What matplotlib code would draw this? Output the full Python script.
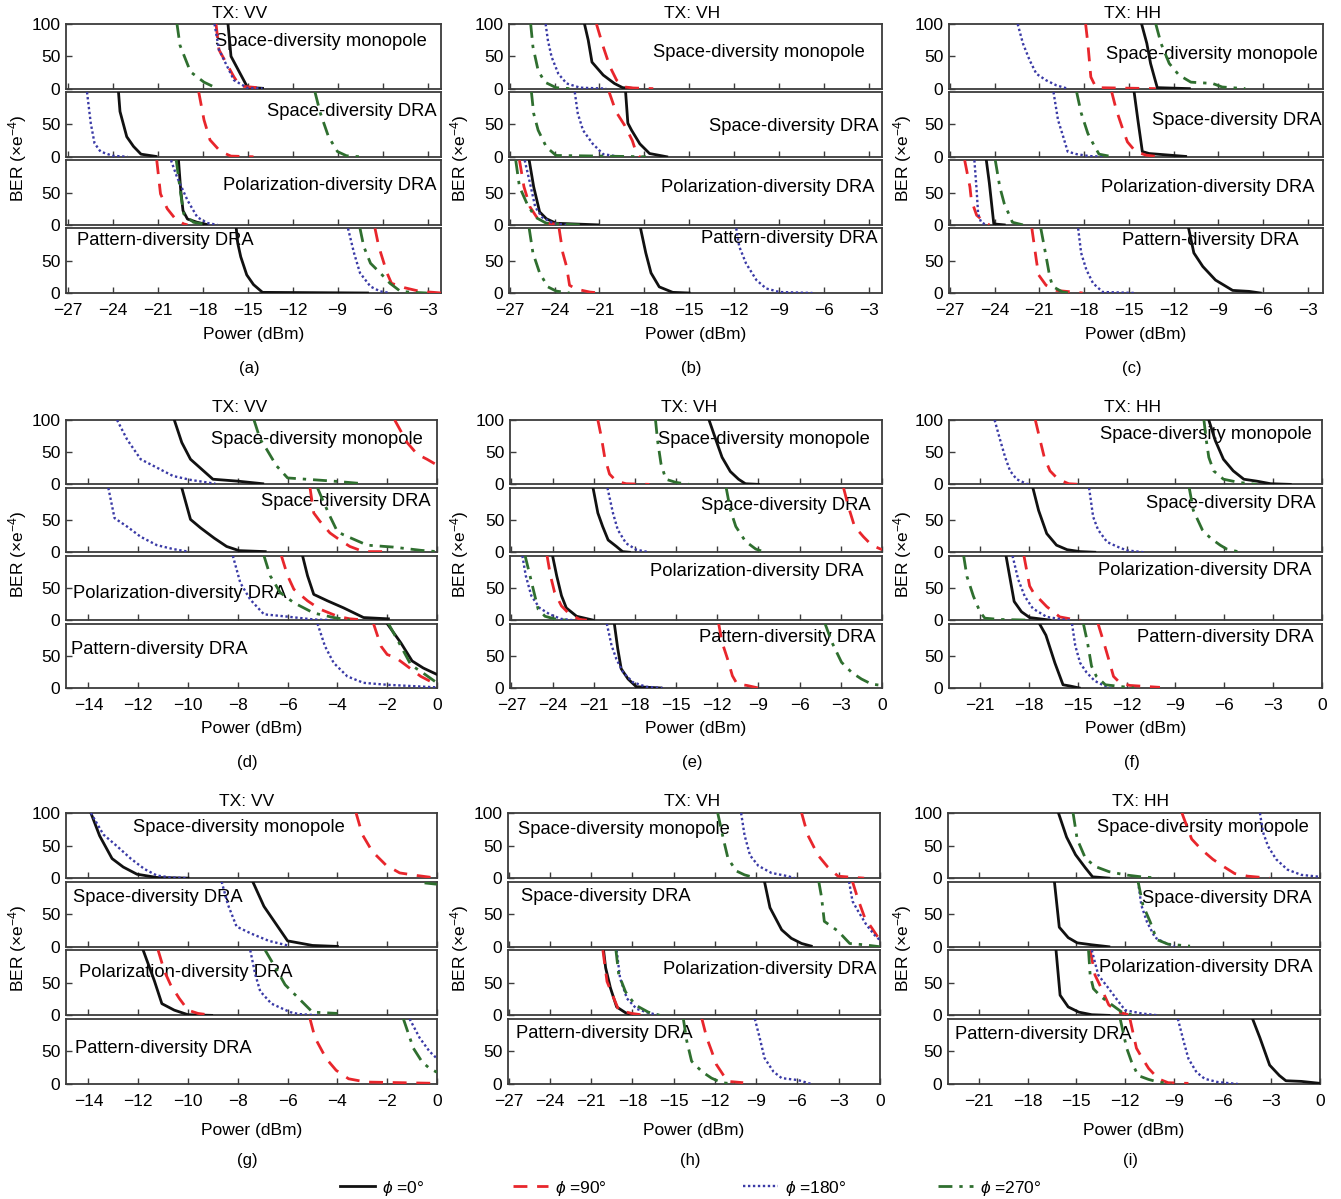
import matplotlib
matplotlib.use("Agg")
import matplotlib.pyplot as plt
from matplotlib.lines import Line2D

plt.rcParams.update({
    "font.family": ["Liberation Sans", "DejaVu Sans"],
    "mathtext.fontset": "custom",
    "mathtext.rm": "Liberation Sans",
    "mathtext.it": "Liberation Sans:italic",
    "axes.linewidth": 1.3,
    "axes.edgecolor": "#3c3c3c",
})

W, H = 1341, 1199

# ---- data: each list holds the four phi curves (0, 90, 180, 270 deg) ------
# entries are (power_dBm, BER_x1e-4); None = curve not visible in the window
A_MONO = [([-16.3, -16.1, -15.0, -14.0], [100, 50, 2, 0.5]),
          ([-17.1, -16.9, -15.9, -15.5, -14.1], [100, 60, 18, 4, 1]),
          ([-17.2, -16.9, -15.9, -15.0, -14.0], [100, 60, 13, 1, 0.5]),
          ([-19.7, -19.5, -18.8, -17.9, -17.0], [100, 67, 26, 10, 0])]
A_SPACE = [([-23.6, -23.5, -23.05, -22.6, -22.1, -21.1], [100, 70, 31, 16, 4, 0.5]),
           ([-18.25, -17.9, -17.5, -16.8, -16.1, -14.6], [100, 57, 26, 8, 1, 0]),
           ([-25.7, -25.45, -25.2, -24.8, -24.0, -23.0], [100, 52, 21, 8, 1.5, 0]),
           ([-10.5, -10.15, -9.6, -9.0, -8.4, -7.5], [100, 68, 31, 8, 1.5, 0])]
A_POL = [([-19.6, -19.45, -19.3, -19.0, -18.35, -17.7], [100, 53, 22, 9, 4, 0.5]),
         ([-21.05, -20.8, -20.35, -19.8, -19.25, -19.0], [100, 48, 25, 9, 1.5, 0]),
         ([-20.1, -19.7, -19.0, -18.35, -17.7, -17.0], [100, 74, 38, 12, 3, 0]),
         ([-19.75, -19.45, -19.25, -18.6, -17.6], [100, 48, 17, 4, 0])]
A_PAT = [([-15.75, -15.65, -15.45, -15.05, -14.6, -14.0, -7.0], [100, 77, 56, 28, 13, 1, 0]),
         ([-6.5, -6.25, -5.7, -5.4, -4.5, -3.5, -2.6, -2.1], [100, 72, 31, 15, 8, 2.5, 1, 0]),
         ([-8.3, -7.9, -7.5, -6.8, -6.15, -5.5], [100, 62, 31, 10, 2.5, 0]),
         ([-7.5, -7.25, -6.8, -6.15, -5.5, -4.8, -3.95, -3.05], [100, 72, 46, 31, 15, 2.5, 1, 0])]

B_MONO = [([-22.0, -21.75, -21.5, -20.75, -20.0, -19.45, -18.55], [100, 75, 41, 21, 8, 1.5, 0]),
          ([-21.2, -20.75, -20.3, -19.85, -19.3, -18.75, -17.4], [100, 65, 34, 13, 2.5, 1, 0]),
          ([-24.6, -24.45, -24.2, -23.75, -23.2, -22.3, -20.55], [100, 75, 49, 23, 8, 1.5, 0]),
          ([-25.6, -25.45, -25.1, -24.65, -23.9, -23.0], [100, 65, 28, 10, 1.5, 0])]
B_SPACE = [([-19.25, -19.1, -18.85, -18.3, -17.65, -16.5], [100, 52, 41, 20, 5, 0]),
           ([-20.35, -19.9, -19.3, -18.8, -18.55, -18.3], [100, 70, 48, 25, 7, 0]),
           ([-22.65, -22.45, -22.1, -21.45, -20.75, -19.65], [100, 67, 41, 20, 4, 0]),
           ([-25.55, -25.4, -25.1, -24.55, -23.9, -17.9], [100, 67, 41, 15, 2, 0])]
B_POL = [([-25.7, -25.4, -25.0, -24.55, -23.9, -21.1], [100, 59, 20, 9.5, 2.5, 0]),
         ([-26.35, -26.05, -25.65, -25.2, -24.55, -23.2], [100, 59, 28, 12, 2.5, 0]),
         ([-26.0, -25.65, -25.3, -24.85, -24.1, -23.2], [100, 65, 28, 12, 2.5, 0]),
         ([-26.6, -26.35, -25.85, -25.3, -24.55, -22.3], [100, 59, 33, 12, 2.5, 0])]
B_PAT = [([-18.25, -17.9, -17.55, -17.0, -16.1, -15.0], [100, 62, 31, 9.5, 1, 0]),
         ([-23.7, -23.45, -23.2, -23.0, -22.55, -21.65, -21.0], [100, 62, 41, 12, 6, 1.5, 0]),
         ([-11.85, -11.65, -11.2, -10.5, -9.85, -8.95, -6.75], [100, 72, 46, 20, 7, 1.5, 0]),
         ([-25.7, -25.45, -25.0, -24.45, -23.9, -23.0], [100, 62, 31, 9.5, 3, 0])]

C_MONO = [([-14.15, -13.8, -13.55, -13.3, -13.1, -10.95], [100, 70, 39, 18, 1.5, 0]),
          ([-17.9, -17.75, -17.55, -17.2, -13.2], [100, 70, 18, 1.5, 0]),
          ([-22.45, -22.1, -21.65, -21.2, -20.55, -19.85, -19.1], [100, 70, 44, 23, 13, 5, 0]),
          ([-13.2, -12.85, -12.3, -11.65, -10.85, -9.4, -8.75, -7.2], [100, 70, 39, 21, 10, 8, 2.5, 0])]
C_SPACE = [([-14.65, -14.4, -14.1, -13.65, -11.2], [100, 57, 8, 5, 0.5]),
           ([-16.15, -15.85, -15.4, -15.1, -14.55, -13.85, -12.95], [100, 73, 42, 23, 8, 2.5, 0]),
           ([-20.05, -19.75, -19.4, -19.1, -18.5, -17.65, -16.55], [100, 57, 31, 8, 4, 1, 0]),
           ([-18.5, -18.2, -17.75, -17.3, -17.0, -16.1], [100, 68, 36, 16, 4, 0])]
C_POL = [([-24.55, -24.35, -24.05, -23.35], [100, 65, 1.5, 0]),
         ([-26.0, -25.65, -25.55, -25.2, -24.65, -24.35], [100, 59, 38, 15, 4, 0]),
         ([-25.35, -25.2, -25.1, -24.9, -24.55], [100, 54, 17, 4, 0]),
         ([-23.95, -23.65, -23.35, -22.8, -22.1], [100, 59, 33, 4, 0])]
C_PAT = [([-11.0, -10.65, -10.05, -9.2, -8.05, -6.95, -6.2], [100, 62, 41, 20, 4, 2.5, 0]),
         ([-21.5, -21.2, -21.05, -20.55, -19.85, -18.1], [100, 51, 28, 12, 4, 0]),
         ([-18.4, -18.2, -17.85, -17.4, -16.75, -14.5], [100, 62, 36, 15, 1.5, 0]),
         ([-20.9, -20.55, -20.3, -20.1, -19.45, -19.0], [100, 57, 25, 10, 1.5, 0])]

D_MONO = [([-10.55, -10.25, -9.9, -9.0, -8.0, -7.0], [100, 65, 39, 8, 5, 1]),
          ([-1.7, -1.2, -0.8, -0.4, 0.0], [100, 65, 47, 39, 30]),
          ([-12.85, -12.45, -11.9, -11.25, -10.6, -9.9, -8.9], [100, 70, 39, 26, 13, 7, 1]),
          ([-7.35, -7.1, -6.85, -6.45, -6.0, -4.15, -2.95], [100, 70, 55, 29, 10, 5, 1])]
D_SPACE = [([-10.25, -9.9, -9.5, -8.95, -8.45, -7.95, -6.9], [100, 51, 38, 22, 9, 2.5, 1]),
           ([-5.1, -4.95, -4.7, -4.3, -3.9, -3.5, -2.95, -1.95], [100, 61, 48, 30, 19, 9, 1, 1]),
           ([-13.2, -12.95, -12.45, -11.9, -11.25, -10.6, -10.0], [100, 53, 40, 24, 11, 5, 1]),
           ([-4.8, -4.6, -4.3, -4.0, -3.75, -2.8, -1.75, -0.65, 0.0], [100, 82, 56, 32, 27, 11, 8, 3, 1])]
D_POL = [([-5.4, -5.2, -4.95, -4.4, -3.75, -2.95, -1.95], [100, 69, 40, 30, 19, 4, 2]),
         ([-6.25, -6.0, -5.75, -5.2, -4.7, -4.0, -3.5, -2.8], [100, 69, 48, 30, 17, 6, 2, 0]),
         ([-8.2, -7.9, -7.5, -6.95, -6.15, -4.95, -4.15], [100, 58, 32, 9, 6, 1, 0]),
         ([-6.95, -6.7, -6.3, -5.75, -4.95, -4.15, -3.5], [100, 69, 43, 27, 11, 4, 0])]
D_PAT = [([-2.0, -1.45, -1.0, -0.55, 0.0], [100, 70, 42, 31, 21]),
         ([-2.55, -2.25, -2.0, -1.65, -1.2, -0.65, 0.0], [100, 65, 52, 47, 34, 18, 5]),
         ([-4.8, -4.5, -4.15, -3.6, -2.95, -2.0, 0.0], [100, 65, 39, 18, 8, 5, 1]),
         ([-1.95, -1.45, -1.05, -0.55, 0.0], [100, 65, 36, 23, 8])]

E_MONO = [([-12.6, -12.0, -11.65, -11.05, -10.45, -9.95, -9.0], [100, 63, 42, 20, 8, 1, 0]),
          ([-20.7, -20.45, -20.2, -19.85, -19.35, -18.65, -16.95], [100, 74, 42, 16, 5, 1, 0]),
          None,
          ([-16.5, -16.35, -16.1, -15.75, -15.0, -14.05], [100, 68, 32, 8, 3, 0])]
E_SPACE = [([-21.05, -20.7, -20.35, -19.95, -19.35, -18.9, -18.4], [100, 61, 40, 19, 9, 1, 0]),
           ([-2.8, -2.45, -2.0, -1.35, -0.75, 0.0], [100, 71, 40, 24, 11, 4]),
           ([-20.0, -19.6, -19.25, -18.65, -17.9, -16.95], [100, 61, 35, 14, 4, 0]),
           ([-11.35, -11.05, -10.65, -9.95, -9.2, -8.5], [100, 66, 40, 17, 5, 0])]
E_POL = [([-24.0, -23.7, -23.35, -23.0, -22.25, -21.05], [100, 69, 38, 19, 6, 0]),
         ([-24.4, -24.15, -23.85, -23.35, -22.75, -22.0, -21.5], [100, 69, 43, 22, 9, 1, 0]),
         ([-26.2, -25.95, -25.55, -24.95, -24.2, -23.4, -22.55], [100, 69, 38, 19, 9, 2, 0]),
         ([-26.0, -25.7, -25.35, -25.05, -24.55, -23.7, -22.95], [100, 74, 43, 17, 6, 1, 0])]
E_PAT = [([-19.5, -19.25, -19.0, -18.5, -17.9, -16.1], [100, 61, 30, 14, 2, 0]),
         ([-11.9, -11.65, -11.25, -10.9, -10.55, -9.85, -9.0], [100, 71, 45, 19, 6, 4, 0]),
         ([-20.05, -19.7, -19.35, -18.85, -18.15, -17.2, -16.0], [100, 66, 45, 24, 9, 2, 0]),
         ([-4.15, -3.65, -2.95, -2.2, -1.5, -0.75, 0.0], [100, 71, 40, 24, 14, 6, 4])]

F_MONO = [([-6.95, -6.55, -6.05, -5.45, -4.8, -4.0, -3.15, -1.95], [100, 68, 39, 21, 8, 5, 1, 0]),
          ([-17.6, -17.3, -17.05, -16.7, -16.2, -15.55, -14.85], [100, 68, 42, 21, 8, 1, 0]),
          ([-20.1, -19.75, -19.45, -19.15, -18.75, -18.15, -17.95], [100, 68, 42, 21, 8, 1, 0]),
          ([-7.25, -7.1, -6.95, -6.65, -6.05, -5.1, -4.0], [100, 68, 42, 21, 8, 3, 0])]
F_SPACE = [([-17.75, -17.4, -16.9, -16.3, -15.65, -14.85, -13.95], [100, 65, 29, 11, 4, 1, 0]),
           None,
           ([-14.3, -14.05, -13.75, -13.2, -12.6, -12.0, -10.95], [100, 55, 35, 16, 9, 3, 0]),
           ([-8.15, -7.9, -7.35, -6.85, -6.25, -5.85, -5.0], [100, 65, 35, 22, 11, 5, 0])]
F_POL = [([-19.4, -18.9, -18.45, -17.95, -16.7], [100, 29, 13, 4, 0]),
         ([-18.3, -17.95, -17.7, -16.9, -16.1, -15.25, -14.85], [100, 53, 42, 21, 5, 1, 0]),
         ([-19.0, -18.65, -18.25, -17.75, -16.9, -15.9, -15.45], [100, 63, 37, 18, 5, 1, 0]),
         ([-22.0, -21.8, -21.4, -21.0, -20.7, -19.75, -17.95], [100, 68, 37, 13, 3, 1, 0])]
F_PAT = [([-17.35, -16.95, -16.4, -15.9, -15.45, -14.9], [100, 82, 39, 5, 3, 0]),
         ([-13.75, -13.4, -13.1, -12.8, -12.4, -11.8, -9.95], [100, 71, 45, 18, 8, 4, 1]),
         ([-15.35, -15.15, -14.85, -14.45, -13.95, -13.4, -13.0], [100, 66, 39, 24, 11, 4, 0]),
         ([-14.65, -14.4, -14.15, -13.85, -13.3, -12.6, -11.55], [100, 71, 34, 18, 5, 3, 0])]

G_MONO = [([-13.9, -13.55, -13.05, -12.6, -12.05, -11.25, -10.0], [100, 65, 30, 17, 6, 1, 0]),
          ([-3.25, -3.0, -2.6, -2.05, -1.5, -0.8, 0.0], [100, 67, 41, 20, 8, 4, 0]),
          ([-13.9, -13.4, -12.85, -12.3, -11.75, -11.25, -10.7, -10.0], [100, 67, 49, 30, 14, 4, 1, 0]),
          None]
G_SPACE = [([-7.4, -6.95, -6.0, -5.0, -4.0], [100, 62, 9, 2, 0.5]),
           None,
           ([-8.65, -8.4, -8.05, -7.45, -6.75, -6.0], [100, 65, 31, 20, 9, 2]),
           ([-0.5, 0.0], [98, 96])]
G_POL = [([-11.8, -11.35, -11.05, -10.55, -10.0, -9.05], [100, 53, 18, 8, 1, 0]),
         ([-11.2, -10.95, -10.7, -10.35, -10.0, -9.6, -9.0], [100, 68, 47, 26, 8, 3, 0]),
         ([-7.5, -7.3, -7.1, -6.65, -5.9, -5.55, -4.75], [100, 63, 37, 18, 5, 2, 0]),
         ([-6.9, -6.5, -6.1, -5.55, -5.0, -4.0], [100, 74, 47, 26, 5, 3])]
G_PAT = [None,
         ([-5.1, -4.9, -4.45, -4.05, -3.55, -2.85, 0.0], [100, 71, 39, 21, 8, 3, 1]),
         ([-1.1, -0.7, -0.3, 0.0], [100, 71, 50, 39]),
         ([-1.35, -0.95, -0.6, -0.3, 0.0], [100, 55, 34, 24, 18])]

H_MONO = [None,
          ([-5.7, -5.25, -4.5, -3.8, -3.05, -1.85, -1.15], [100, 66, 35, 17, 3, 1, 0]),
          ([-10.1, -9.85, -9.45, -8.85, -7.9, -6.7, -6.2], [100, 66, 35, 19, 8, 3, 0]),
          ([-11.8, -11.4, -11.05, -10.45, -9.85, -9.0], [100, 61, 30, 11, 5, 0])]
H_SPACE = [([-8.4, -8.0, -7.15, -6.45, -5.7, -5.0], [100, 60, 26, 13, 5, 1]),
           ([-2.0, -1.6, -1.1, -0.6, -0.1, 0.0], [100, 73, 44, 29, 13, 8]),
           ([-2.25, -2.0, -1.6, -1.0, -0.4, 0.0], [100, 70, 55, 34, 18, 10]),
           ([-4.45, -4.25, -4.05, -3.05, -2.2, -1.15, 0.0], [100, 76, 39, 24, 5, 3, 0])]
H_POL = [([-20.1, -19.95, -19.6, -19.15, -18.5, -17.8], [100, 73, 42, 13, 4, 0]),
         ([-20.15, -19.85, -19.35, -19.0, -18.05, -17.05], [100, 52, 26, 8, 3, 0]),
         ([-19.15, -18.9, -18.4, -17.7, -16.85, -16.0], [100, 57, 26, 10, 4, 0]),
         ([-19.2, -19.0, -18.5, -17.8, -16.85, -16.0], [100, 63, 36, 16, 5, 0])]
H_PAT = [None,
         ([-12.95, -12.6, -12.25, -11.9, -11.4, -11.05, -9.95], [100, 71, 51, 30, 14, 4, 2]),
         ([-9.1, -8.75, -8.4, -7.75, -7.15, -5.95, -5.0], [100, 71, 40, 19, 9, 6, 0]),
         ([-14.3, -14.05, -13.7, -12.95, -12.25, -11.5, -10.55], [100, 66, 35, 19, 9, 2, 0])]

I_MONO = [([-16.1, -15.6, -15.05, -14.45, -14.0, -13.0], [100, 63, 36, 16, 2, 0]),
          ([-8.5, -7.9, -7.3, -6.6, -5.95, -5.25, -4.45, -3.1], [100, 60, 44, 29, 18, 7, 3, 0]),
          ([-3.7, -3.5, -3.2, -2.7, -2.0, -1.15, 0.0], [100, 70, 49, 29, 13, 5, 2]),
          ([-15.2, -14.95, -14.45, -13.85, -13.0, -12.0, -11.0, -9.95], [100, 60, 31, 18, 10, 5, 2, 0])]
I_SPACE = [([-16.35, -16.05, -15.5, -14.95, -14.05, -13.0], [100, 30, 14, 6, 3, 0]),
           None,
           ([-11.2, -11.0, -10.65, -10.15, -9.55, -8.95], [100, 64, 38, 14, 6, 1]),
           ([-11.2, -10.9, -10.45, -10.05, -9.35, -8.0], [100, 64, 38, 11, 4, 1])]
I_POL = [([-16.25, -16.0, -15.5, -14.85, -14.05, -13.0], [100, 31, 13, 5, 1, 0]),
         ([-14.15, -13.85, -13.45, -13.0, -12.4, -11.8], [100, 62, 41, 16, 5, 1]),
         ([-14.05, -13.65, -13.0, -12.4, -12.0, -11.0, -9.95], [100, 62, 41, 21, 8, 3, 0]),
         ([-14.25, -14.15, -13.95, -13.45, -12.8, -12.2, -11.6], [100, 62, 41, 28, 16, 5, 1])]
I_PAT = [([-4.15, -3.7, -3.1, -2.5, -2.1, -1.15, 0.0], [100, 71, 29, 13, 5, 4, 1]),
         ([-11.7, -11.3, -11.0, -10.55, -9.95, -9.35, -8.1], [100, 55, 42, 24, 8, 2, 1]),
         ([-8.75, -8.4, -8.1, -7.6, -7.1, -6.3, -5.05], [100, 66, 39, 18, 8, 3, 0]),
         ([-12.3, -11.9, -11.6, -11.2, -10.55, -9.95, -9.15], [100, 55, 34, 13, 7, 3, 0])]

ANTENNAS = ["Space-diversity monopole", "Space-diversity DRA",
            "Polarization-diversity DRA", "Pattern-diversity DRA"]
PHI_LABELS = [r"$\phi$ =0°", r"$\phi$ =90°", r"$\phi$ =180°", r"$\phi$ =270°"]
TX = ["TX: VV", "TX: VH", "TX: HH"]

XT_27_3 = [-27, -24, -21, -18, -15, -12, -9, -6, -3]
XT_27_0 = [-27, -24, -21, -18, -15, -12, -9, -6, -3, 0]
XT_21_0 = [-21, -18, -15, -12, -9, -6, -3, 0]
XT_14_0 = [-14, -12, -10, -8, -6, -4, -2, 0]

# letter, data, xlim, xticks, box (left, top, right, bottom px), title x, label spots
PANELS = [
    ("a", [A_MONO, A_SPACE, A_POL, A_PAT], (-27.1, -2.1), XT_27_3, (66, 24, 441, 293), 240,
     [(0.963, 0.73, "right"), (0.988, 0.70, "right"), (0.987, 0.61, "right"), (0.03, 0.82, "left")]),
    ("b", [B_MONO, B_SPACE, B_POL, B_PAT], (-27.05, -2.1), XT_27_3, (509, 24, 882, 293), 692,
     [(0.955, 0.56, "right"), (0.991, 0.47, "right"), (0.98, 0.58, "right"), (0.987, 0.84, "right")]),
    ("c", [C_MONO, C_SPACE, C_POL, C_PAT], (-27.05, -2.0), XT_27_3, (949, 24, 1323, 293), 1132,
     [(0.987, 0.53, "right"), (0.997, 0.56, "right"), (0.977, 0.58, "right"), (0.935, 0.81, "right")]),
    ("d", [D_MONO, D_SPACE, D_POL, D_PAT], (-14.9, 0), XT_14_0, (66, 420, 437, 688), 240,
     [(0.962, 0.69, "right"), (0.982, 0.79, "right"), (0.02, 0.42, "left"), (0.013, 0.60, "left")]),
    ("e", [E_MONO, E_SPACE, E_POL, E_PAT], (-27.1, 0), XT_27_0, (510, 420, 882, 688), 689,
     [(0.967, 0.70, "right"), (0.97, 0.72, "right"), (0.95, 0.75, "right"), (0.982, 0.78, "right")]),
    ("f", [F_MONO, F_SPACE, F_POL, F_PAT], (-22.9, 0), XT_21_0, (949, 420, 1322, 688), 1133,
     [(0.972, 0.77, "right"), (0.983, 0.76, "right"), (0.972, 0.77, "right"), (0.977, 0.79, "right")]),
    ("g", [G_MONO, G_SPACE, G_POL, G_PAT], (-14.9, 0), XT_14_0, (66, 813, 437, 1084), 247,
     [(0.465, 0.77, "center"), (0.019, 0.76, "left"), (0.034, 0.66, "left"), (0.025, 0.55, "left")]),
    ("h", [H_MONO, H_SPACE, H_POL, H_PAT], (-27.05, 0), XT_27_0, (508, 813, 880, 1084), 692,
     [(0.027, 0.74, "left"), (0.034, 0.77, "left"), (0.991, 0.70, "right"), (0.022, 0.78, "left")]),
    ("i", [I_MONO, I_SPACE, I_POL, I_PAT], (-22.9, 0), XT_21_0, (948, 813, 1320, 1084), 1141,
     [(0.971, 0.77, "right"), (0.978, 0.74, "right"), (0.979, 0.73, "right"), (0.018, 0.76, "left")]),
]

ROW_TEXT_Y = [(13, 334, 368), (407, 729, 762), (801, 1131, 1160)]  # title, xlabel, letter
YLABEL_X = [18, 460, 903]

STYLES = [
    dict(color="#111111", ls="-", lw=2.0),
    dict(color="#e8262c", ls=(0, (5, 3.5)), lw=2.0),
    dict(color="#3a3aa6", ls=(0, (1, 1.1)), lw=1.7),
    dict(color="#2f6f2f", ls=(0, (5, 2.5, 1.2, 2.5)), lw=2.0),
]

FS_TICK = 12.5
FS_NOTE = 13.2
FS_LABEL = 12.5
GAP = 3.5


def fx(px):
    return px / W


def fy(py):
    return 1 - py / H


fig = plt.figure(figsize=(W / 100, H / 100), dpi=100)

for k, (letter, subs, xlim, xticks, box, title_x, spots) in enumerate(PANELS):
    left, top, right, bottom = box
    row, col = divmod(k, 3)
    hsub = (bottom - top - 3 * GAP) / 4
    for j in range(4):
        t = top + j * (hsub + GAP)
        ax = fig.add_axes([fx(left), fy(t + hsub), (right - left) / W, hsub / H])
        for curve, st in zip(subs[j], STYLES):
            if curve is None:
                continue
            ax.plot(curve[0], curve[1], color=st["color"], ls=st["ls"], lw=st["lw"],
                    zorder=3, solid_joinstyle="round")
        ax.set_xlim(*xlim)
        ax.set_ylim(0, 100)
        ax.set_xticks(xticks)
        ax.set_yticks([0, 50, 100] if j == 0 else [0, 50])
        ax.tick_params(direction="in", length=4, width=1.0, labelsize=FS_TICK,
                       color="#3c3c3c")
        ax.tick_params(axis="y", pad=4)
        ax.tick_params(axis="x", pad=7.5)
        if j < 3:
            ax.tick_params(labelbottom=False)
        else:
            ax.set_xticklabels(["\u2212%d" % -v if v < 0 else "%d" % v for v in xticks])
        x0, y0, ha = spots[j]
        ax.text(x0, y0, ANTENNAS[j], transform=ax.transAxes, ha=ha, va="center",
                fontsize=FS_NOTE, zorder=1)

    cx = (left + right) / 2
    ty, xly, ly = ROW_TEXT_Y[row]
    fig.text(fx(title_x), fy(ty), TX[col], ha="center", va="center", fontsize=FS_LABEL)
    fig.text(fx(cx), fy(xly), "Power (dBm)", ha="center", va="center", fontsize=FS_LABEL)
    fig.text(fx(cx - 4), fy(ly), "(%s)" % letter, ha="center", va="center", fontsize=12)
    fig.text(fx(YLABEL_X[col]), fy((top + bottom) / 2), r"BER (×e$^{-4}$)",
             rotation=90, ha="center", va="center", fontsize=FS_LABEL)

# legend: four separate entries spread along the bottom edge
LEG_X = [340, 513, 743, 938]
for st, lab, x in zip(STYLES, PHI_LABELS, LEG_X):
    h = Line2D([], [], color=st["color"], ls=st["ls"], lw=st["lw"])
    fig.legend(handles=[h], labels=[lab], loc="center left",
               bbox_to_anchor=(fx(x), fy(1188)), frameon=False, fontsize=12.5,
               handlelength=2.0, handletextpad=0.4, borderpad=0, borderaxespad=0)

fig.savefig("out.png", dpi=100)
